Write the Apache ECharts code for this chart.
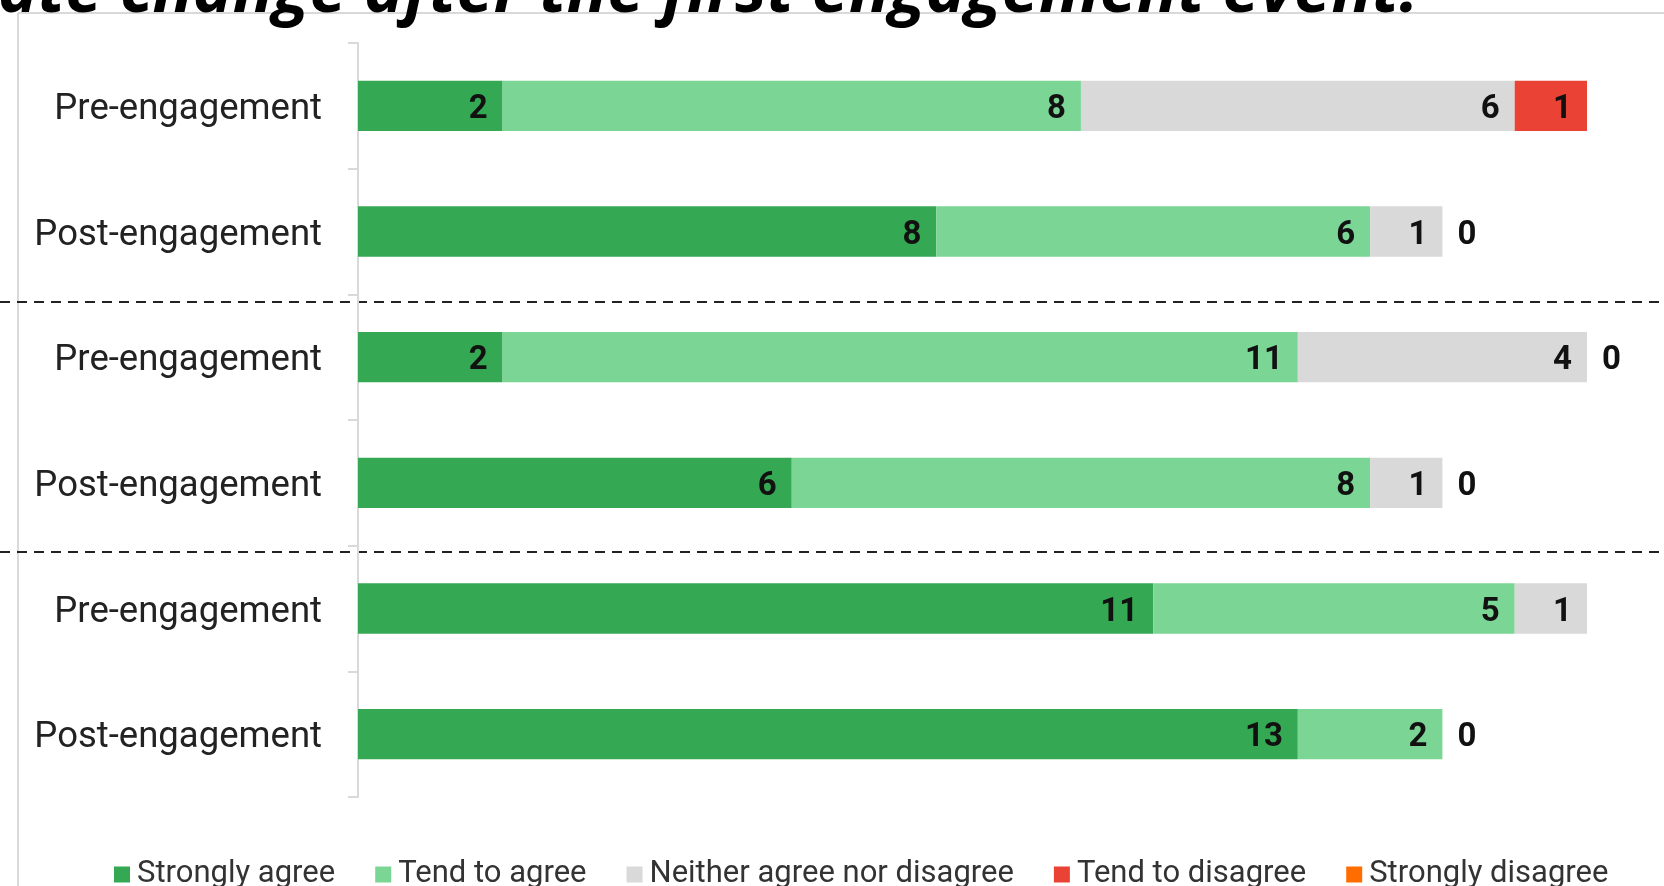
<!DOCTYPE html>
<html>
<head>
<meta charset="utf-8">
<script src="https://cdn.jsdelivr.net/npm/echarts@6/dist/echarts.min.js"></script>
<style>
html,body{margin:0;padding:0;background:#fff;}
#chart{width:1664px;height:886px;}
</style>
</head>
<body>
<div id="chart"></div>
<script>
var titleText = 'ate change after the first engagement event.';
var categories = ['Pre-engagement','Post-engagement','Pre-engagement','Post-engagement','Pre-engagement','Post-engagement'];
var seriesNames = ['Strongly agree','Tend to agree','Neither agree nor disagree','Tend to disagree','Strongly disagree'];
var stronglyAgree    = [2, 8, 2, 6, 11, 13];
var tendToAgree      = [8, 6, 11, 8, 5, 2];
var neither          = [6, 1, 4, 1, 1, 0];
var tendToDisagree   = [1, 0, 0, 0, null, null];
var stronglyDisagree = [null, null, null, null, null, null];
var colors = ['#34A853', '#7BD695', '#D9D9D9', '#EA4335', '#FF6D01'];
var groupBreaks = [2, 4]; // category index where a new group starts

var chart = echarts.init(document.getElementById('chart'), null, {renderer: 'canvas'});
var allValues = [stronglyAgree, tendToAgree, neither, tendToDisagree, stronglyDisagree];

function buildData(arr) {
  return arr.map(function (v) {
    if (v === 0) {
      return {value: 0, label: {position: 'right', distance: 15}};
    }
    return v;
  });
}

var series = seriesNames.map(function (name, i) {
  return {
    name: name,
    type: 'bar',
    stack: 'total',
    barWidth: '40%',
    itemStyle: {color: colors[i]},
    label: {
      show: true,
      position: 'insideRight',
      distance: 15,
      fontFamily: 'Roboto',
      fontWeight: 'bold',
      fontSize: 33,
      color: '#111',
      verticalAlign: 'top',
      lineHeight: 8
    },
    data: buildData(allValues[i])
  };
});

chart.setOption({
  animation: false,
  backgroundColor: '#fff',
  grid: {left: 358, right: 77, top: 43, bottom: 89, containLabel: false},
  legend: {
    data: seriesNames,
    left: 114,
    top: 859,
    padding: 0,
    icon: 'rect',
    itemWidth: 16,
    itemHeight: 16,
    itemGap: 40,
    textStyle: {fontFamily: 'Roboto', fontSize: 31, color: '#333', padding: [0, 0, 0, 2]}
  },
  xAxis: {
    type: 'value',
    min: 0,
    max: 17,
    show: false,
    splitLine: {show: false}
  },
  yAxis: {
    type: 'category',
    inverse: true,
    data: categories.map(function (c, i) { return String(i); }),
    axisLine: {show: true, lineStyle: {color: '#D9D9D9', width: 2}},
    axisTick: {show: true, length: 10, lineStyle: {color: '#D9D9D9', width: 2}},
    axisLabel: {
      margin: 36,
      fontFamily: 'Roboto',
      fontSize: 36.5,
      color: '#222',
      verticalAlign: 'top',
      lineHeight: 8,
      formatter: function (v, idx) { return categories[idx]; }
    }
  },
  series: series
});

// decorations: chart frame, cut-off title, group separators
var y0 = chart.convertToPixel({yAxisIndex: 0}, 0);
var y1 = chart.convertToPixel({yAxisIndex: 0}, 1);
var band = y1 - y0;
var graphics = [
  {type: 'line', shape: {x1: 18, y1: 13, x2: 1664, y2: 13}, style: {stroke: '#D9D9D9', lineWidth: 2}, silent: true},
  {type: 'line', shape: {x1: 18, y1: 13, x2: 18, y2: 886}, style: {stroke: '#D9D9D9', lineWidth: 2}, silent: true},
  {type: 'text', x: -2, y: -7, z: 10, style: {text: titleText, font: 'italic bold 67px "Open Sans"', fill: '#000', textVerticalAlign: 'middle', verticalAlign: 'middle'}, silent: true}
];
groupBreaks.forEach(function (b, k) {
  var yc = chart.convertToPixel({yAxisIndex: 0}, b);
  var yy = Math.round(yc - band / 2 + (k === 0 ? 8 : 6));
  graphics.push({type: 'line', shape: {x1: 0, y1: yy, x2: 1664, y2: yy}, style: {stroke: '#222', lineWidth: 2, lineDash: [10, 7]}, silent: true});
});
chart.setOption({graphic: graphics});
</script>
</body>
</html>
